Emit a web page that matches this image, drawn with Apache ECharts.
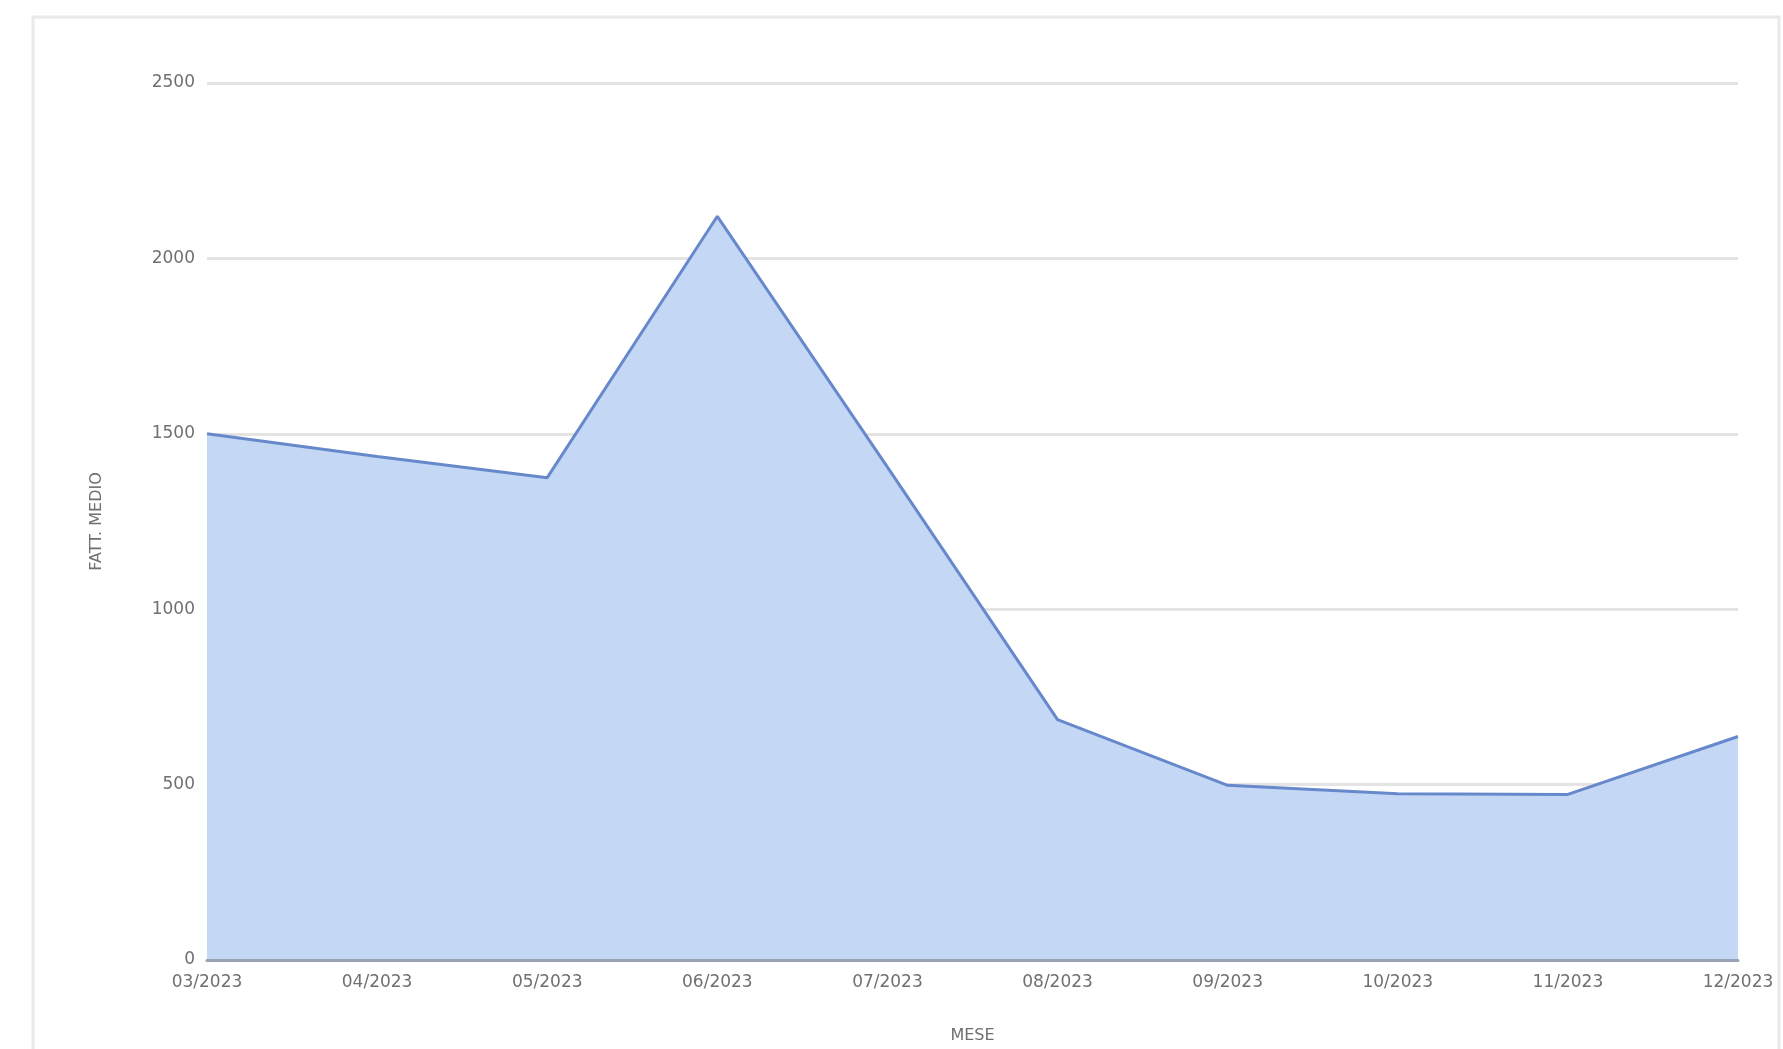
<!DOCTYPE html>
<html>
<head>
<meta charset="utf-8">
<title>FATT. MEDIO per MESE</title>
<script src="https://cdn.jsdelivr.net/npm/echarts@6/dist/echarts.min.js"></script>
<style>
    html, body { margin: 0; padding: 0; background: #fff; }
    #chart { width: 1783px; height: 1049px; }
</style>
</head>
<body>
<div id="chart"></div>
<script>
var months = ['03/2023', '04/2023', '05/2023', '06/2023', '07/2023', '08/2023', '09/2023', '10/2023', '11/2023', '12/2023'];
var fattMedio = [1500, 1435, 1375, 2120, 1405, 685, 498, 474, 472, 637];
var yTicks = [0, 500, 1000, 1500, 2000, 2500];

var labelFont = 'DejaVu Sans';

var chart = echarts.init(document.getElementById('chart'));
chart.setOption({
    backgroundColor: '#ffffff',
    animation: false,
    graphic: [{
        type: 'rect',
        shape: { x: 33, y: 17, width: 1746, height: 1060 },
        style: { fill: 'none', stroke: '#e9e9e9', lineWidth: 3 },
        silent: true
    }],
    grid: {
        left: 207,
        right: 45,
        top: 83,
        bottom: 89
    },
    xAxis: {
        type: 'category',
        data: months,
        boundaryGap: false,
        z: 5,
        name: 'MESE',
        nameLocation: 'middle',
        nameGap: 68,
        nameTextStyle: { fontFamily: labelFont, fontSize: 16, color: '#6f6f6f' },
        axisLine: { lineStyle: { color: '#98a2b4', width: 3 } },
        axisTick: { show: false },
        axisLabel: {
            fontFamily: labelFont,
            fontSize: 17,
            color: '#707070',
            margin: 14,
            interval: 0
        },
        splitLine: { show: false }
    },
    yAxis: {
        type: 'value',
        min: yTicks[0],
        max: yTicks[yTicks.length - 1],
        interval: 500,
        name: 'FATT. MEDIO',
        nameLocation: 'middle',
        nameGap: 102,
        nameRotate: 90,
        nameTextStyle: { fontFamily: labelFont, fontSize: 16, color: '#6f6f6f' },
        axisLine: { show: false },
        axisTick: { show: false },
        axisLabel: {
            fontFamily: labelFont,
            fontSize: 17,
            color: '#707070',
            margin: 12,
            formatter: function (v) { return String(v); }
        },
        splitLine: { lineStyle: { color: '#e4e4e4', width: 3 } }
    },
    series: [{
        type: 'line',
        data: fattMedio,
        showSymbol: false,
        symbol: 'none',
        lineStyle: { color: '#6789cc', width: 3 },
        areaStyle: { color: '#c4d8f6', opacity: 1 }
    }]
});
</script>
</body>
</html>
